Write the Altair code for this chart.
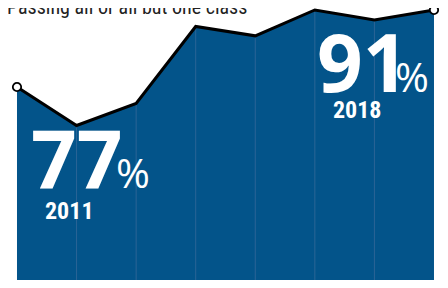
import altair as alt
import pandas as pd

years = [2011, 2012, 2013, 2014, 2015, 2016, 2017, 2018]
values = [77, 70, 74, 88, 86.3, 91, 89.2, 91]
title_text = "Passing all or all but one class"
end_years = [2011, 2018]
end_values = [77, 91]
big_labels = ["77", "91"]
pct_labels = ["%", "%"]
year_labels = ["2011", "2018"]

df = pd.DataFrame({"year": years, "value": values})
inner = df[(df.year > years[0]) & (df.year < years[-1])]
ends = pd.DataFrame({"year": end_years, "value": end_values})
lab_first = pd.DataFrame({"year": [end_years[0]], "value": [end_values[0]],
                          "big": [big_labels[0]], "pct": [pct_labels[0]], "yl": [year_labels[0]]})
lab_last = pd.DataFrame({"year": [end_years[1]], "value": [end_values[1]],
                         "big": [big_labels[1]], "pct": [pct_labels[1]], "yl": [year_labels[1]]})

W, H = 432, 272
xs = alt.Scale(domain=[2010.849, 2018.101], nice=False, zero=False)
ys = alt.Scale(domain=[41.91, 91.36], nice=False, zero=False)
X = alt.X("year:Q", scale=xs, axis=None)
Y = alt.Y("value:Q", scale=ys, axis=None)

BLUE = "#03548a"
BIG_FONT = "Open Sans"
COND_FONT = "Roboto Condensed, Noto Sans Condensed, Liberation Sans Narrow, DejaVu Sans Condensed, sans-serif"

area = alt.Chart(df).mark_area(color=BLUE, opacity=1).encode(x=X, y=Y, y2=alt.value(H))
rules = alt.Chart(inner).mark_rule(color="#2b6596", strokeWidth=1).encode(x=X, y=Y, y2=alt.value(H))
line = alt.Chart(df).mark_line(color="black", strokeWidth=3, strokeJoin="miter").encode(x=X, y=Y)
dots = alt.Chart(ends).mark_circle(size=70, color="white", opacity=1, stroke="black",
                                   strokeWidth=1.8).encode(x=X, y=Y)

def texts(d, big_dx, big_dy, pct_dx, yl_dx, yl_dy):
    base = alt.Chart(d).encode(x=X, y=Y)
    big = base.mark_text(font=BIG_FONT, fontWeight="bold", fontSize=80, color="white",
                         align="left", baseline="alphabetic", dx=big_dx, dy=big_dy).encode(text="big:N")
    pct = base.mark_text(font=BIG_FONT, fontWeight="normal", fontSize=41, color="white",
                         align="left", baseline="alphabetic", dx=pct_dx, dy=big_dy).encode(text="pct:N")
    yl = base.mark_text(font=COND_FONT, fontWeight="bold", fontSize=24, color="white",
                        align="left", baseline="alphabetic", dx=yl_dx, dy=yl_dy).encode(text="yl:N")
    return [big, pct, yl]

t1 = texts(lab_first, 14, 101, 99, 28, 132)
t2 = texts(lab_last, -117, 82, -39, -101, 108)

title = alt.Chart(pd.DataFrame({"t": [title_text]})).mark_text(
    font=COND_FONT, fontSize=20, color="#222222", align="left", baseline="alphabetic"
).encode(text="t:N", x=alt.value(-1), y=alt.value(6))

chart = alt.layer(area, rules, line, dots, *t1, *t2, title).properties(
    width=W, height=H, autosize=alt.AutoSizeParams(type="none"), padding=0,
    background="white"
).configure_view(stroke=None)

chart.save("out.html", embed_options={"renderer": "svg", "actions": False})
